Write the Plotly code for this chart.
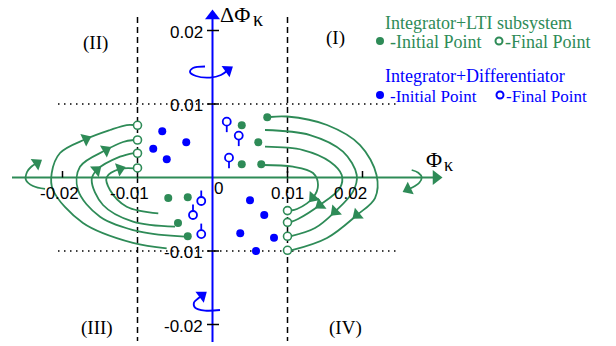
import math
import plotly.graph_objects as go

GREEN = "#2E8B57"
BLUE = "#0000FF"
SERIF = "Liberation Serif, Times New Roman, serif"
SANS = "Liberation Sans, Arial, sans-serif"

# ---------------- chart values (phase plane: Phi_k vs Delta Phi_k) ----------------
x_ticks = [-0.02, -0.01, 0.01, 0.02]
x_tick_labels = ["-0.02", "-0.01", "0.01", "0.02"]
y_ticks = [0.02, 0.01, -0.01, -0.02]
y_tick_labels = ["0.02", "0.01", "-0.01", "-0.02"]

# Integrator + LTI subsystem
green_init_x = [0.0073, 0.0039, 0.0061, 0.0039, 0.0065, -0.0059, -0.0033, -0.0046, -0.0033]
green_init_y = [0.0082, 0.0071, 0.0048, 0.0018, 0.0018, -0.0028, -0.0027, -0.0062, -0.0080]
green_final_x = [-0.01, -0.01, -0.01, -0.01, 0.01, 0.01, 0.01, 0.01]
green_final_y = [0.0071, 0.0051, 0.0033, 0.0013, -0.0045, -0.0061, -0.0080, -0.0099]

# Integrator + Differentiator
blue_init_x = [-0.0067, -0.0035, -0.0079, -0.0061, 0.0050, 0.0069, 0.0037, 0.0082, 0.0058]
blue_init_y = [0.0063, 0.0048, 0.0039, 0.0025, -0.0031, -0.0051, -0.0076, -0.0082, -0.0100]
blue_final_x = [0.0019, 0.0035, 0.0022, -0.0015, -0.0026, -0.0015]
blue_final_y = [0.0076, 0.0057, 0.0027, -0.0032, -0.0051, -0.0077]
blue_stem_dir = [-1, -1, -1, 1, 1, 1]   # stem below (-1) or above (+1) the circle

# trajectories: (x list, y list, index of the arrow head)
green_paths = [
    ([0.00767, 0.00993, 0.01527, 0.01967, 0.02187, 0.02167, 0.01927, 0.01527, 0.01047],
     [0.00823, 0.00830, 0.00714, 0.00442, 0.00034, -0.00279, -0.00510, -0.00823, -0.00993], 6),
    ([0.00700, 0.01300, 0.01740, 0.01923, 0.01873, 0.01633, 0.01367, 0.01047],
     [0.00646, 0.00578, 0.00351, 0.00034, -0.00193, -0.00465, -0.00687, -0.00796], 5),
    ([0.00700, 0.01207, 0.01567, 0.01723, 0.01700, 0.01433, 0.01140, 0.01047],
     [0.00419, 0.00374, 0.00215, 0.00034, -0.00143, -0.00374, -0.00565, -0.00605], 5),
    ([0.00673, 0.01073, 0.01340, 0.01407, 0.01340, 0.01127, 0.01047],
     [0.00170, 0.00147, 0.00061, -0.00102, -0.00275, -0.00429, -0.00449], 4),
    ([-0.00611, -0.01060, -0.01727, -0.02127, -0.02144, -0.02033, -0.01687, -0.01367, -0.01144, -0.01047],
     [-0.00963, -0.00891, -0.00619, -0.00170, 0.00061, 0.00333, 0.00524, 0.00646, 0.00714, 0.00714], 6),
    ([-0.00367, -0.00967, -0.01500, -0.01793, -0.01767, -0.01420, -0.01193, -0.01047],
     [-0.00805, -0.00737, -0.00533, -0.00170, 0.00147, 0.00374, 0.00483, 0.00510], 5),
    ([-0.00500, -0.01060, -0.01460, -0.01611, -0.01544, -0.01233, -0.01047],
     [-0.00669, -0.00601, -0.00374, -0.00034, 0.00102, 0.00283, 0.00333], 4),
    ([-0.00723, -0.01144, -0.01367, -0.01411, -0.01233, -0.01047],
     [-0.00487, -0.00397, -0.00170, 0.00003, 0.00116, 0.00125], 4),
    # small rotation marks on the Phi axis
    ([-0.02233, -0.02393, -0.02487, -0.02473, -0.02420, -0.02340],
     [-0.00156, -0.00116, -0.00034, 0.00075, 0.00143, 0.00197], 5),
    ([0.02656, 0.02744, 0.02789, 0.02757, 0.02700, 0.02607],
     [0.00102, 0.00065, 0.00003, -0.00071, -0.00116, -0.00161], 5),
]
blue_paths = [
    ([-0.00100, -0.00260, -0.00300, -0.00220, -0.00033, 0.00113, 0.00207],
     [0.01510, 0.01490, 0.01435, 0.01381, 0.01360, 0.01395, 0.01463], 6),
    ([0.00100, -0.00100, -0.00233, -0.00247, -0.00193, -0.00140],
     [-0.01803, -0.01810, -0.01769, -0.01700, -0.01646, -0.01605], 5),
]

# ---------------- pixel <-> data mapping of the canvas ----------------
W, H = 616, 346
X0, Y0 = 212.5, 177.5        # origin on the canvas
SX, SY = 7500.0, 7350.0      # pixels per data unit


def X(px):
    return (px - X0) / SX


def Y(py):
    return (Y0 - py) / SY


fig = go.Figure()


def line(xs, ys, color, width=1.5, dash="solid", shape="linear"):
    fig.add_trace(go.Scatter(x=xs, y=ys, mode="lines", hoverinfo="skip",
                             line=dict(color=color, width=width, dash=dash, shape=shape)))


def arrow_angle(xs, ys, i):
    a, b = max(i - 1, 0), min(i + 1, len(xs) - 1)
    dx = (xs[b] - xs[a]) * SX
    dy_up = (ys[b] - ys[a]) * SY
    return math.degrees(math.atan2(dx, dy_up))


def heads(px_list, py_list, angles, color, size=12):
    fig.add_trace(go.Scatter(x=px_list, y=py_list, mode="markers", hoverinfo="skip",
                             marker=dict(symbol="triangle-up", size=size, color=color,
                                         angle=angles, line=dict(width=0))))


# dashed verticals and dotted horizontals
for xv in (-0.01, 0.01):
    line([xv, xv], [Y(17), Y(341)], "black", 1.5, "6px,4px")
for yv in (0.01, -0.01):
    line([X(58), X(398)], [yv, yv], "black", 1.5, "1.5px,4.5px")

# axes
line([X(12), X(436)], [0, 0], GREEN, 2)
heads([X(436)], [0], [90], GREEN, 13)
line([0, 0], [Y(342), Y(16)], BLUE, 2)
heads([0], [Y(16)], [0], BLUE, 13)

# tick marks
tx, ty = [], []
for v in x_ticks:
    tx += [v, v, None]
    ty += [0, Y(171), None]
line(tx, ty, "black", 1.5)
tx, ty = [], []
for v in y_ticks:
    tx += [X(207), X(219), None]
    ty += [v, v, None]
line(tx, ty, "black", 1.5)

# trajectories
for paths, col in ((green_paths, GREEN), (blue_paths, BLUE)):
    hx, hy, ha = [], [], []
    for xs, ys, i in paths:
        line(xs, ys, col, 1.8, shape="spline")
        hx.append(xs[i]); hy.append(ys[i]); ha.append(arrow_angle(xs, ys, i))
    heads(hx, hy, ha, col, 12)

# points
fig.add_trace(go.Scatter(x=green_init_x, y=green_init_y, mode="markers", hoverinfo="skip",
                         marker=dict(size=8, color=GREEN, line=dict(width=0))))
fig.add_trace(go.Scatter(x=green_final_x, y=green_final_y, mode="markers", hoverinfo="skip",
                         marker=dict(size=8, color="white", line=dict(width=1.6, color=GREEN))))
fig.add_trace(go.Scatter(x=blue_init_x, y=blue_init_y, mode="markers", hoverinfo="skip",
                         marker=dict(size=8, color=BLUE, line=dict(width=0))))
sx, sy = [], []
for xv, yv, d in zip(blue_final_x, blue_final_y, blue_stem_dir):
    sx += [xv, xv, None]
    sy += [yv + d * 3.5 / SY, yv + d * 10.5 / SY, None]
line(sx, sy, BLUE, 1.8)
fig.add_trace(go.Scatter(x=blue_final_x, y=blue_final_y, mode="markers", hoverinfo="skip",
                         marker=dict(size=8, color="white", line=dict(width=1.8, color=BLUE))))

# legend markers
fig.add_trace(go.Scatter(x=[X(380), X(380)], y=[Y(41), Y(95)], mode="markers", hoverinfo="skip",
                         marker=dict(size=8, color=[GREEN, BLUE], line=dict(width=0))))
fig.add_trace(go.Scatter(x=[X(499), X(500)], y=[Y(41), Y(95)], mode="markers", hoverinfo="skip",
                         marker=dict(size=7, color="white", line=dict(width=2, color=[GREEN, BLUE]))))

ann = []


def text(t, px, py, size, color="black", font=SERIF, xanchor="center"):
    ann.append(dict(text=t, x=X(px), y=Y(py), xref="x", yref="y", showarrow=False,
                    xanchor=xanchor, yanchor="middle",
                    font=dict(family=font, size=size, color=color)))


# tick labels
for v, lab in zip(y_ticks, y_tick_labels):
    text(lab, 205, Y0 - v * SY + 1.5, 17, font=SANS, xanchor="right")
for lab, cx in zip(x_tick_labels, [59, 129, 287, 350]):
    text(lab, cx, 193.5, 17, font=SANS)
text("0", 218, 188, 17, font=SANS)

# axis names
text("ΔΦ", 218, 14, 22, xanchor="left")
text("κ", 251, 19, 20, xanchor="left")
text("Φ", 424, 159, 22, xanchor="left")
text("κ", 442, 165, 18, xanchor="left")

# quadrants
text("(II)", 95, 43, 19)
text("(I)", 335, 38, 19)
text("(III)", 97, 328, 19)
text("(IV)", 345, 328, 19)

# legend texts
text("Integrator+LTI subsystem", 383, 23, 18, GREEN, xanchor="left")
text("-Initial Point", 388, 42, 18, GREEN, xanchor="left")
text("-Final Point", 503, 42, 18, GREEN, xanchor="left")
text("Integrator+Differentiator", 383, 76, 18, BLUE, xanchor="left")
text("-Initial Point", 388, 96, 17, BLUE, xanchor="left")
text("-Final Point", 504, 96, 17, BLUE, xanchor="left")

fig.update_layout(
    width=W, height=H, margin=dict(l=0, r=0, t=0, b=0),
    paper_bgcolor="white", plot_bgcolor="white", showlegend=False,
    xaxis=dict(range=[X(0), X(W)], visible=False, fixedrange=True),
    yaxis=dict(range=[Y(H), Y(0)], visible=False, fixedrange=True),
    annotations=ann, hovermode=False,
)

fig.write_html("out.html", config={"displayModeBar": False},
               post_script="document.body.style.margin='0';document.body.style.overflow='hidden';")
